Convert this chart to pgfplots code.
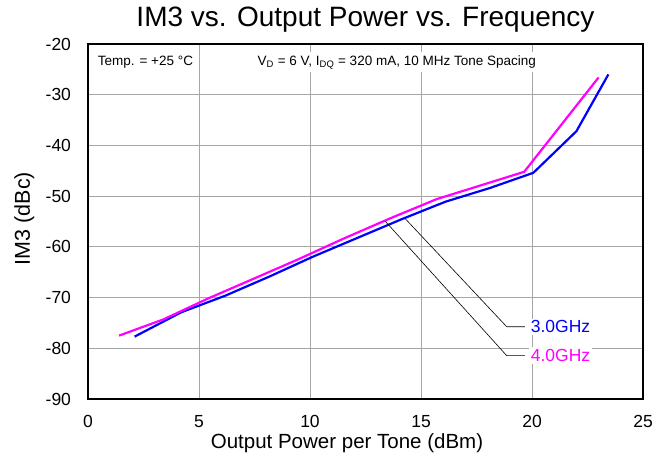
\documentclass[border=0pt]{standalone}
\usepackage{fontspec}
\setmainfont{Liberation Sans}
\usepackage{pgfplots}
\pgfplotsset{compat=1.18}
\definecolor{ghzblue}{RGB}{0,0,255}
\definecolor{ghzpink}{RGB}{255,0,255}
\begin{document}
\begin{tikzpicture}
\begin{axis}[
    scale only axis,
    width=555pt, height=355pt,
    xmin=0, xmax=25, ymin=-90, ymax=-20,
    xtick={0,5,...,25}, ytick={-90,-80,...,-20},
    grid=major,
    grid style={gray!70, line width=0.8pt},
    major tick length=0pt,
    axis line style={black, line width=1.3pt},
    /pgf/number format/assume math mode=true,
    ticklabel style={font=\fontsize{17.5}{19}\selectfont},
    yticklabel style={xshift=-13.5pt},
    xticklabel style={yshift=-13pt},
    xlabel={Output Power per Tone (dBm)},
    ylabel={IM3 (dBc)},
    xlabel style={font=\fontsize{20.5}{22}\selectfont, at={(rel axis cs:0.5,0)}, anchor=base, xshift=-18.5pt, yshift=-50pt},
    ylabel style={font=\fontsize{21.5}{23}\selectfont, at={(rel axis cs:-0.1045,0.508)}, anchor=base},
    title={IM3 vs. Output Power vs. Frequency},
    title style={font=\fontsize{28}{30}\selectfont, at={(rel axis cs:0.5,1)}, anchor=base, yshift=11pt},
    every axis plot/.append style={line width=2.2pt},
]
% 3.0 GHz
\addplot[ghzblue] coordinates {
    (2.1,-77.7) (4.2,-72.9) (6.2,-69.6) (8.2,-65.8) (10.1,-62.0)
    (12.1,-58.3) (14.1,-54.6) (16.1,-51.1) (18.1,-48.4) (20.06,-45.4)
    (22.0,-37.2) (23.44,-26.0)
};
% 4.0 GHz
\addplot[ghzpink] coordinates {
    (1.4,-77.5) (3.4,-74.3) (5.4,-70.2) (7.4,-66.4) (9.5,-62.4)
    (11.5,-58.4) (13.6,-54.4) (15.7,-50.6) (19.65,-45.2) (23.0,-26.6)
};
% leader lines
\addplot[black, line width=0.6pt] coordinates {(14.28,-54.4) (18.86,-75.75) (19.68,-75.75)};
\addplot[black, line width=0.6pt] coordinates {(13.38,-54.9) (18.86,-81.45) (19.68,-81.45)};
\node[anchor=west, fill=white, inner sep=2pt, text=ghzblue, font=\fontsize{17.5}{19}\selectfont]
    at (axis cs:19.85,-75.75) {3.0GHz};
\node[anchor=west, fill=white, inner sep=2pt, text=ghzpink, font=\fontsize{17.5}{19}\selectfont]
    at (axis cs:19.85,-81.45) {4.0GHz};
\node[anchor=west, fill=white, inner sep=3pt, font=\fontsize{13.5}{15}\selectfont]
    at (rel axis cs:0.012,0.949) {Temp. = +25 °C};
\node[anchor=west, fill=white, inner sep=3pt, font=\fontsize{13.5}{15}\selectfont]
    at (rel axis cs:0.30,0.949) {V\textsubscript{D} = 6 V, I\textsubscript{DQ} = 320 mA, 10 MHz Tone Spacing};
\coordinate (bl) at (rel axis cs:0,0);
\coordinate (tr) at (rel axis cs:1,1);
\end{axis}
\pgfresetboundingbox
\path[use as bounding box] ([shift={(-88pt,-60pt)}]bl) rectangle ([shift={(17pt,44pt)}]tr);
\end{tikzpicture}
\end{document}
